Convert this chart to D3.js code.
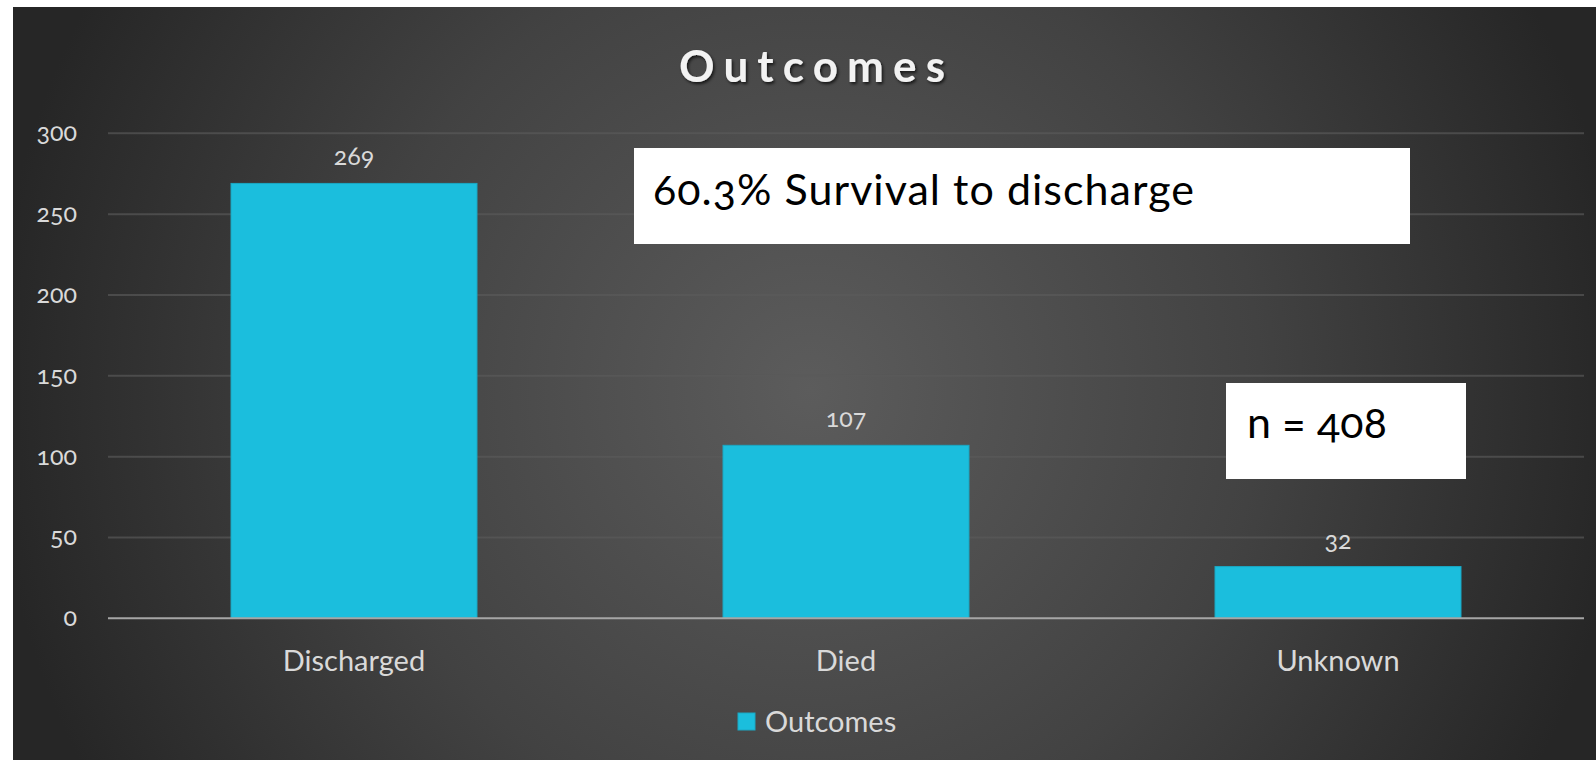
<!DOCTYPE html>
<html>
<head>
<meta charset="utf-8">
<script src="https://cdn.jsdelivr.net/npm/d3@7"></script>
<style>
  body { margin: 0; background: #fff; }
  svg { display: block; }
  text { font-family: Lato, "Open Sans", sans-serif; font-variant-numeric: oldstyle-nums; }
</style>
</head>
<body>
<div class="chart"></div>
<script>
// chart data
var categories = ["Discharged", "Died", "Unknown"];
var outcomes = [269, 107, 32];
var yTicks = [0, 50, 100, 150, 200, 250, 300];
var seriesName = "Outcomes";
var title = "Outcomes";
var notes = ["60.3% Survival to discharge", "n = 408"];

var values = {
  width: 1596,
  height: 760,
  left: 108,
  right: 1584,
  top: 133.3,
  bottom: 618.3
};

var svg = d3.select(".chart")
  .append("svg")
  .attr("width", values.width)
  .attr("height", values.height);

var defs = svg.append("defs");

// dark radial background, lighter in the middle
var grad = defs.append("radialGradient")
  .attr("id", "bg")
  .attr("gradientUnits", "userSpaceOnUse")
  .attr("cx", 810).attr("cy", 390).attr("r", 820);
grad.append("stop").attr("offset", "0").attr("stop-color", "#5c5c5c");
grad.append("stop").attr("offset", "0.55").attr("stop-color", "#424242");
grad.append("stop").attr("offset", "1").attr("stop-color", "#262626");

var shadow = defs.append("filter").attr("id", "shadow")
  .attr("x", "-10%").attr("y", "-20%").attr("width", "130%").attr("height", "160%");
shadow.append("feDropShadow")
  .attr("dx", 1.5).attr("dy", 2).attr("stdDeviation", 1.5)
  .attr("flood-color", "#000").attr("flood-opacity", 0.7);

svg.append("rect")
  .attr("x", 13).attr("y", 7)
  .attr("width", values.width - 13).attr("height", values.height - 7)
  .attr("fill", "url(#bg)");

var x = d3.scaleBand()
  .domain(categories)
  .range([values.left, values.right])
  .paddingInner(0.5)
  .paddingOuter(0.25);

var y = d3.scaleLinear()
  .domain([0, 300])
  .range([values.bottom, values.top]);

// gridlines
svg.append("g")
  .selectAll("line")
  .data(yTicks.filter(d => d > 0))
  .enter()
  .append("line")
  .attr("x1", values.left).attr("x2", values.right)
  .attr("y1", d => y(d)).attr("y2", d => y(d))
  .attr("stroke", "#5a5a5a")
  .attr("stroke-opacity", 0.65)
  .attr("stroke-width", 2);

// y tick labels
svg.append("g")
  .selectAll("text")
  .data(yTicks)
  .enter()
  .append("text")
  .attr("x", 77)
  .attr("y", d => y(d) + 8)
  .attr("text-anchor", "end")
  .attr("fill", "#d9d9d9")
  .style("font-size", "25px")
  .text(d => d);

// bars
svg.append("g")
  .selectAll("rect")
  .data(outcomes)
  .enter()
  .append("rect")
  .attr("x", (d, i) => x(categories[i]))
  .attr("y", d => y(d))
  .attr("width", x.bandwidth())
  .attr("height", d => y(0) - y(d))
  .attr("fill", "#1bbedd")
  .attr("stroke", "#1aa8c4")
  .attr("stroke-width", 1);

// value labels
svg.append("g")
  .selectAll("text")
  .data(outcomes)
  .enter()
  .append("text")
  .attr("x", (d, i) => x(categories[i]) + x.bandwidth() / 2)
  .attr("y", d => y(d) - 18)
  .attr("text-anchor", "middle")
  .attr("fill", "#d9d9d9")
  .style("font-size", "25px")
  .text(d => d);

// x axis line
svg.append("line")
  .attr("x1", values.left).attr("x2", values.right)
  .attr("y1", y(0)).attr("y2", y(0))
  .attr("stroke", "#a6a6a6")
  .attr("stroke-width", 2);

// category labels
svg.append("g")
  .selectAll("text")
  .data(categories)
  .enter()
  .append("text")
  .attr("x", d => x(d) + x.bandwidth() / 2)
  .attr("y", 671)
  .attr("text-anchor", "middle")
  .attr("fill", "#d9d9d9")
  .style("font-size", "29px")
  .text(d => d);

// title
svg.append("text")
  .attr("x", 812)
  .attr("y", 82)
  .attr("text-anchor", "middle")
  .attr("fill", "#f2f2f2")
  .attr("filter", "url(#shadow)")
  .attr("textLength", 266)
  .attr("lengthAdjust", "spacing")
  .style("font-family", "Lato, 'Open Sans', sans-serif")
  .style("font-size", "44px")
  .style("font-weight", "bold")
  .text(title);

// legend
svg.append("rect")
  .attr("x", 738).attr("y", 713)
  .attr("width", 17).attr("height", 17)
  .attr("fill", "#1bbedd")
  .attr("stroke", "#1aa8c4");
svg.append("text")
  .attr("x", 765)
  .attr("y", 732)
  .attr("fill", "#d9d9d9")
  .style("font-size", "29px")
  .text(seriesName);

// annotation boxes
var boxes = [
  { x: 634, y: 148, w: 776, h: 96, tx: 653, ty: 205, size: 43, len: 541, text: notes[0] },
  { x: 1226, y: 383, w: 240, h: 96, tx: 1247, ty: 438, size: 43, len: 140, text: notes[1] }
];
boxes.forEach(b => {
  svg.append("rect")
    .attr("x", b.x).attr("y", b.y)
    .attr("width", b.w).attr("height", b.h)
    .attr("fill", "#fff");
  svg.append("text")
    .attr("x", b.tx).attr("y", b.ty)
    .attr("fill", "#000")
    .attr("textLength", b.len)
    .attr("lengthAdjust", "spacing")
    .style("font-size", b.size + "px")
    .text(b.text);
});
</script>
</body>
</html>
